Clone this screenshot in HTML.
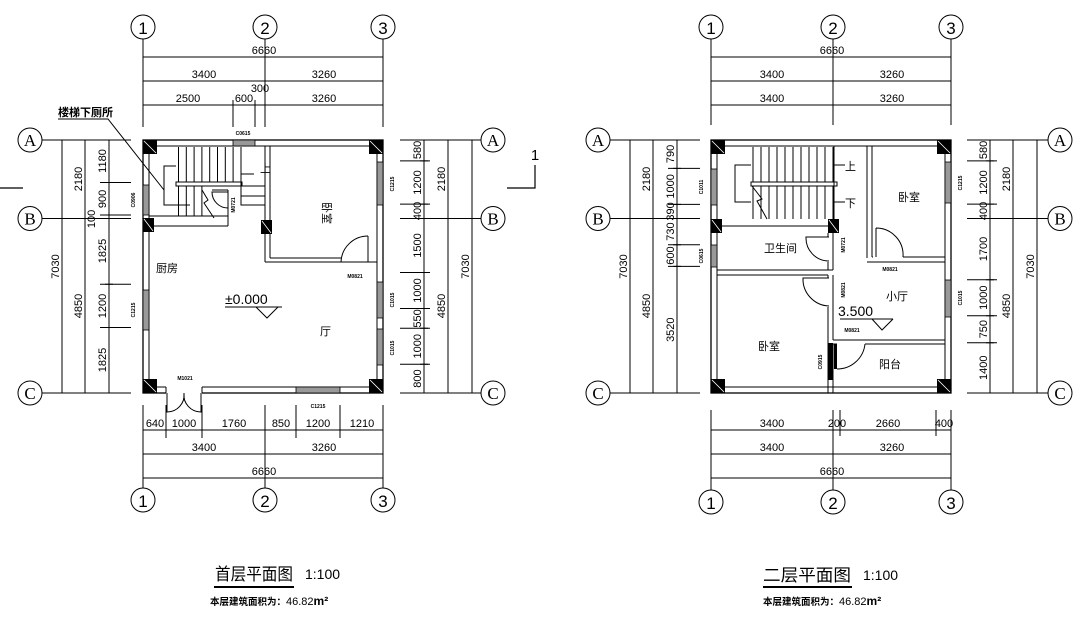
<!DOCTYPE html>
<html><head><meta charset="utf-8"><style>
html,body{margin:0;padding:0;background:#fff;}
svg{display:block;}
text{font-family:"Liberation Sans","Noto Sans CJK SC",sans-serif;fill:#000;}
.d{font-size:11px;text-anchor:middle;}
.s{font-size:5px;text-anchor:middle;font-weight:bold;}
.ax{font-family:"Liberation Serif",serif;font-size:17px;text-anchor:middle;}
.an{font-family:"Liberation Sans",sans-serif;font-size:17px;text-anchor:middle;}
</style></head><body>
<svg width="1081" height="633" viewBox="0 0 1081 633" xmlns="http://www.w3.org/2000/svg">
<g stroke="#000" stroke-width="1" fill="none">
<circle cx="143" cy="27" r="12"/><circle cx="265" cy="27" r="12"/><circle cx="383" cy="27" r="12"/>
<circle cx="143" cy="500" r="12"/><circle cx="265" cy="500" r="12"/><circle cx="383" cy="500" r="12"/>
<circle cx="30" cy="140" r="12"/><circle cx="30" cy="218.5" r="12"/><circle cx="30" cy="393" r="12"/>
<circle cx="493" cy="140" r="12"/><circle cx="493" cy="218.5" r="12"/><circle cx="493" cy="393" r="12"/>
<path d="M143 39V127M265 39V127M383 39V127M233 100V127M255 100V127"/>
<path d="M143 57H383M143 81H383M143 105H383"/>
<path d="M143 53v8M383 53v8M143 77v8M265 77v8M383 77v8M143 101v8M233 101v8M255 101v8M265 101v8M383 101v8"/>
<path d="M143 405V488M265 405V488M383 405V488M166 405V438M202 405V438M296 405V438M340 405V438"/>
<path d="M143 430H383M143 454H383M143 478H383"/>
<path d="M166 426v8M202 426v8M296 426v8M340 426v8M265 426v8M143 426v8M383 426v8M143 450v8M265 450v8M383 450v8M143 474v8M383 474v8"/>
<path d="M42 140H131M42 218.5H131M42 393H131M100 182.5H131M100 215H131M100 284.3H131M100 327.5H131"/>
<path d="M62 140V393M85 140V393M109 140V393"/>
<path d="M58 140h8M58 393h8M81 140h8M81 218.5h8M81 393h8M105 140h8M105 182.5h8M105 215h8M105 218.5h8M105 284.3h8M105 327.5h8M105 393h8"/>
<path d="M400 140H481M400 218.5H481M400 393H481M400 160.9H430M400 204.1H430M400 272.5H430M400 308.5H430M400 328.3H430M400 364.3H430"/>
<path d="M424 140V393M448 140V393M472 140V393"/>
<path d="M420 160.9h8M420 204.1h8M420 272.5h8M420 308.5h8M420 328.3h8M420 364.3h8M444 218.5h8"/>
<path d="M0 188H23M507 188H535V165" stroke-width="1.2"/>
<rect x="143" y="140" width="240" height="253" stroke-width="1.3"/>
<rect x="149" y="146" width="228" height="241"/>
<path d="M178.5 147V182M186.3 147V182M194.1 147V182M201.9 147V182M209.7 147V182M217.5 147V182M225.3 147V182M233.1 147V182M241 147V182"/>
<path d="M178.5 186V216M186.3 186V216M194.1 186V216M201.9 186V216"/>
<rect x="176" y="182" width="66" height="4"/>
<path d="M241 147V205H265M241 186H265M241 196H265M241 174H254"/>
<path d="M176 166H164V205H190"/>
<path d="M149 216H228M149 226H228M228 190V226M212 190H228"/>
<path d="M228 192H212A16 16 0 0 0 228 208"/>
<path d="M202 190L208 200L204 203L214 218"/>
<path d="M58 119H108L164 190"/>
<path d="M265 146V262M270 146V258M270 258H341M265 262H377M368 236V262"/>
<path d="M368 236A27 27 0 0 0 341 262"/>
<rect x="166" y="385" width="36" height="10" fill="#fff" stroke="none"/>
<path d="M166 387V393M202 387V393M167 393V412A17 17 0 0 0 184 393M201 393V412A17 17 0 0 1 184 393"/>
</g>
<g fill="#000">
<rect x="143" y="140" width="14" height="14"/><rect x="369" y="140" width="14" height="14"/>
<rect x="143" y="379" width="14" height="14"/><rect x="369" y="379" width="14" height="14"/>
<rect x="143" y="218" width="11" height="14"/><rect x="261" y="220" width="11" height="14"/>
</g>
<g fill="#999" stroke="#000" stroke-width="0.8">
<rect x="233" y="140" width="22" height="6"/>
<rect x="143" y="185" width="6" height="30"/>
<rect x="143" y="290" width="6" height="40"/>
<rect x="377" y="162" width="6" height="43"/>
<rect x="377" y="282" width="6" height="36"/>
<rect x="377" y="329" width="6" height="36"/>
<rect x="296" y="387" width="44" height="6"/>
</g>
<g stroke="#fff" stroke-width="0.8">
<path d="M144 141L156 153M370 141L382 153M144 380L156 392M370 380L382 392M144 219L153 231M262 221L271 233"/>
</g>
<g>
<text class="an" x="143" y="34">1</text><text class="an" x="265" y="34">2</text><text class="an" x="383" y="34">3</text>
<text class="an" x="143" y="507">1</text><text class="an" x="265" y="507">2</text><text class="an" x="383" y="507">3</text>
<text class="ax" x="30" y="146">A</text><text class="ax" x="30" y="224.5">B</text><text class="ax" x="30" y="399">C</text>
<text class="ax" x="493" y="146">A</text><text class="ax" x="493" y="224.5">B</text><text class="ax" x="493" y="399">C</text>
<text class="d" x="264" y="54">6660</text>
<text class="d" x="204" y="78">3400</text><text class="d" x="324" y="78">3260</text>
<text class="d" x="188" y="102">2500</text><text class="d" x="244" y="102">600</text><text class="d" x="260" y="92">300</text><text class="d" x="324" y="102">3260</text>
<text class="d" x="155" y="427">640</text><text class="d" x="184" y="427">1000</text><text class="d" x="234" y="427">1760</text><text class="d" x="281" y="427">850</text><text class="d" x="318" y="427">1200</text><text class="d" x="362" y="427">1210</text>
<text class="d" x="204" y="451">3400</text><text class="d" x="324" y="451">3260</text>
<text class="d" x="264" y="475">6660</text>
<text class="d" transform="translate(59 266.5) rotate(-90)">7030</text>
<text class="d" transform="translate(82 179) rotate(-90)">2180</text>
<text class="d" transform="translate(82 306) rotate(-90)">4850</text>
<text class="d" transform="translate(106 161) rotate(-90)">1180</text>
<text class="d" transform="translate(106 199) rotate(-90)">900</text>
<text class="d" transform="translate(95 219) rotate(-90)">100</text>
<text class="d" transform="translate(106 251) rotate(-90)">1825</text>
<text class="d" transform="translate(106 306) rotate(-90)">1200</text>
<text class="d" transform="translate(106 360) rotate(-90)">1825</text>
<text class="d" transform="translate(421 150) rotate(-90)">580</text>
<text class="d" transform="translate(421 182.5) rotate(-90)">1200</text>
<text class="d" transform="translate(421 211) rotate(-90)">400</text>
<text class="d" transform="translate(421 245.5) rotate(-90)">1500</text>
<text class="d" transform="translate(421 290.5) rotate(-90)">1000</text>
<text class="d" transform="translate(421 318.4) rotate(-90)">550</text>
<text class="d" transform="translate(421 346.3) rotate(-90)">1000</text>
<text class="d" transform="translate(421 378.6) rotate(-90)">800</text>
<text class="d" transform="translate(445 179) rotate(-90)">2180</text>
<text class="d" transform="translate(445 306) rotate(-90)">4850</text>
<text class="d" transform="translate(469 266.5) rotate(-90)">7030</text>
<text x="535" y="160" style="font-size:15px;text-anchor:middle">1</text>
<text x="58" y="116" style="font-size:11px;font-weight:bold">楼梯下厕所</text>
<text class="s" x="243" y="135">C0615</text>
<text class="s" transform="translate(135 200) rotate(-90)">C0906</text>
<text class="s" transform="translate(135 310) rotate(-90)">C1215</text>
<text class="s" transform="translate(394 184) rotate(-90)">C1215</text>
<text class="s" transform="translate(394 300) rotate(-90)">C1015</text>
<text class="s" transform="translate(394 348) rotate(-90)">C1015</text>
<text class="s" transform="translate(235 205) rotate(-90)">M0721</text>
<text class="s" x="355" y="278">M0821</text>
<text class="s" x="185" y="380">M1021</text>
<text class="s" x="318" y="408">C1215</text>
<text x="260" y="172" style="font-size:11px">上</text>
<text x="322" y="211" transform="rotate(90 327 207)" style="font-size:11px">卧室</text>
<text x="156" y="272" style="font-size:11px">厨房</text>
<text x="320" y="335" style="font-size:11px">厅</text>
<text x="225" y="304" style="font-size:14px">±0.000</text>
</g>
<path d="M225 307H282M256 307L267 318L278 307" stroke="#000" fill="none"/>

<g stroke="#000" stroke-width="1" fill="none">
<circle cx="711" cy="27" r="12"/><circle cx="833" cy="27" r="12"/><circle cx="951" cy="27" r="12"/>
<circle cx="711" cy="502" r="12"/><circle cx="833" cy="502" r="12"/><circle cx="951" cy="502" r="12"/>
<circle cx="598" cy="140" r="12"/><circle cx="598" cy="218.5" r="12"/><circle cx="598" cy="393" r="12"/>
<circle cx="1060" cy="140" r="12"/><circle cx="1060" cy="218.5" r="12"/><circle cx="1060" cy="393" r="12"/>
<path d="M711 39V125M833 39V125M951 39V125"/>
<path d="M711 57H951M711 81H951M711 105H951"/>
<path d="M711 53v8M951 53v8M711 77v8M833 77v8M951 77v8M711 101v8M833 101v8M951 101v8"/>
<path d="M711 410V490M833 410V490M951 410V490M840 410V436M936 410V436"/>
<path d="M711 430H951M711 454H951M711 478H951"/>
<path d="M711 426v8M833 426v8M840 426v8M936 426v8M951 426v8M711 450v8M833 450v8M951 450v8M711 474v8M951 474v8"/>
<path d="M610 140H700M610 218.5H700M610 393H700M668 168.4H700M668 204.4H700M668 244.8H700M668 266.4H700"/>
<path d="M630 140V393M653 140V393M677 140V393"/>
<path d="M673 168.4h8M673 204.4h8M673 218.5h8M673 244.8h8M673 266.4h8M649 218.5h8"/>
<path d="M967 140H1048M967 218.5H1048M967 393H1048M967 160.9H997M967 204.1H997M967 279.7H997M967 315.7H997M967 342.7H997"/>
<path d="M990 140V393M1013 140V393M1037 140V393"/>
<path d="M986 160.9h8M986 204.1h8M986 279.7h8M986 315.7h8M986 342.7h8M1009 218.5h8"/>
<rect x="711" y="140" width="240" height="253" stroke-width="1.3"/>
<rect x="717" y="146" width="228" height="241"/>
<path d="M753 147V182M761 147V182M769 147V182M777 147V182M785 147V182M793 147V182M801 147V182M809 147V182M817 147V182M825 147V182M833 147V182"/>
<path d="M753 186V219M761 186V219M769 186V219M777 186V219M785 186V219M793 186V219M801 186V219M809 186V219M817 186V219M825 186V219M833 186V219"/>
<rect x="751" y="182" width="86" height="4" fill="#fff"/>
<path d="M751 165H735V202H751M833 165H845M833 202H845"/>
<path d="M752 186L762 199L757 201L767 219"/>
<path d="M834 146V219M867 146V258M872 146V257M872 257H873M903 257H945M867 262H945"/>
<path d="M876 228V257M876 228A27 27 0 0 1 903 257"/>
<path d="M722 226H828M717 270H833M717 275H828M828 233V237M833 233V270M828 262V270"/>
<path d="M829 237H806A23 23 0 0 0 829 261"/>
<path d="M828 275V278M828 307V393M833 275V340M833 344V393"/>
<path d="M829 278H803A27 27 0 0 0 829 306"/>
<path d="M833 340H945M833 344H837M865 344H945M837 369A28 28 0 0 0 865 344"/>
</g>
<g fill="#000">
<rect x="711" y="140" width="14" height="14"/><rect x="937" y="140" width="14" height="14"/>
<rect x="711" y="379" width="14" height="14"/><rect x="937" y="379" width="14" height="14"/>
<rect x="711" y="219" width="11" height="14"/><rect x="828" y="219" width="11" height="14"/>
<rect x="828" y="343" width="5" height="37"/>
<rect x="834" y="344" width="3" height="25"/>
</g>
<g fill="#999" stroke="#000" stroke-width="0.8">
<rect x="711" y="169" width="6" height="36"/>
<rect x="711" y="245" width="6" height="22"/>
<rect x="945" y="162" width="6" height="41"/>
<rect x="945" y="280" width="6" height="37"/>
</g>
<g stroke="#fff" stroke-width="0.8">
<path d="M712 141L724 153M938 141L950 153M712 380L724 392M938 380L950 392M712 220L721 232M829 220L838 232"/>
</g>
<g>
<text class="an" x="711" y="34">1</text><text class="an" x="833" y="34">2</text><text class="an" x="951" y="34">3</text>
<text class="an" x="711" y="509">1</text><text class="an" x="833" y="509">2</text><text class="an" x="951" y="509">3</text>
<text class="ax" x="598" y="146">A</text><text class="ax" x="598" y="224.5">B</text><text class="ax" x="598" y="399">C</text>
<text class="ax" x="1060" y="146">A</text><text class="ax" x="1060" y="224.5">B</text><text class="ax" x="1060" y="399">C</text>
<text class="d" x="832" y="54">6660</text>
<text class="d" x="772" y="78">3400</text><text class="d" x="892" y="78">3260</text>
<text class="d" x="772" y="102">3400</text><text class="d" x="892" y="102">3260</text>
<text class="d" x="772" y="427">3400</text><text class="d" x="837" y="427">200</text><text class="d" x="888" y="427">2660</text><text class="d" x="944" y="427">400</text>
<text class="d" x="772" y="451">3400</text><text class="d" x="892" y="451">3260</text>
<text class="d" x="832" y="475">6660</text>
<text class="d" transform="translate(627 266.5) rotate(-90)">7030</text>
<text class="d" transform="translate(650 179) rotate(-90)">2180</text>
<text class="d" transform="translate(650 306) rotate(-90)">4850</text>
<text class="d" transform="translate(674 154) rotate(-90)">790</text>
<text class="d" transform="translate(674 186.4) rotate(-90)">1000</text>
<text class="d" transform="translate(674 211.5) rotate(-90)">390</text>
<text class="d" transform="translate(674 231.6) rotate(-90)">730</text>
<text class="d" transform="translate(674 255.6) rotate(-90)">600</text>
<text class="d" transform="translate(674 329.7) rotate(-90)">3520</text>
<text class="d" transform="translate(987 150) rotate(-90)">580</text>
<text class="d" transform="translate(987 182.5) rotate(-90)">1200</text>
<text class="d" transform="translate(987 211) rotate(-90)">400</text>
<text class="d" transform="translate(987 249) rotate(-90)">1700</text>
<text class="d" transform="translate(987 297.7) rotate(-90)">1000</text>
<text class="d" transform="translate(987 329.2) rotate(-90)">750</text>
<text class="d" transform="translate(987 367.8) rotate(-90)">1400</text>
<text class="d" transform="translate(1010 179) rotate(-90)">2180</text>
<text class="d" transform="translate(1010 306) rotate(-90)">4850</text>
<text class="d" transform="translate(1034 266.5) rotate(-90)">7030</text>
<text class="s" transform="translate(703 187) rotate(-90)">C1011</text>
<text class="s" transform="translate(703 256) rotate(-90)">C0615</text>
<text class="s" transform="translate(962 183) rotate(-90)">C1215</text>
<text class="s" transform="translate(962 298) rotate(-90)">C1015</text>
<text class="s" transform="translate(845 245) rotate(-90)">M0721</text>
<text class="s" transform="translate(845 290) rotate(-90)">M0821</text>
<text class="s" transform="translate(822 362) rotate(-90)">C0915</text>
<text class="s" x="890" y="271">M0821</text>
<text class="s" x="852" y="332">M0821</text>
<text x="845" y="170" style="font-size:11px">上</text>
<text x="845" y="207" style="font-size:11px">下</text>
<text x="898" y="201" style="font-size:11px">卧室</text>
<text x="764" y="252" style="font-size:11px">卫生间</text>
<text x="886" y="300" style="font-size:11px">小厅</text>
<text x="758" y="350" style="font-size:11px">卧室</text>
<text x="879" y="368" style="font-size:11px">阳台</text>
<text x="838" y="316" style="font-size:14px">3.500</text>
</g>
<path d="M840 319H893M872 319L882 330L893 319" stroke="#000" fill="none"/>

<text x="215" y="580" textLength="78" lengthAdjust="spacingAndGlyphs" style="font-size:17px">首层平面图</text>
<path d="M214 587H294" stroke="#000" stroke-width="2"/>
<text x="305" y="579" style="font-size:14px">1:100</text>
<text x="210" y="605" style="font-size:9.5px;font-weight:bold">本层建筑面积为：<tspan style="font-weight:normal;font-size:11px">46.82</tspan><tspan style="font-size:12px">m²</tspan></text>
<text x="763" y="581" textLength="88" lengthAdjust="spacingAndGlyphs" style="font-size:17px">二层平面图</text>
<path d="M763 587H852" stroke="#000" stroke-width="2"/>
<text x="863" y="580" style="font-size:14px">1:100</text>
<text x="763" y="605" style="font-size:9.5px;font-weight:bold">本层建筑面积为：<tspan style="font-weight:normal;font-size:11px">46.82</tspan><tspan style="font-size:12px">m²</tspan></text>
</svg>
</body></html>
